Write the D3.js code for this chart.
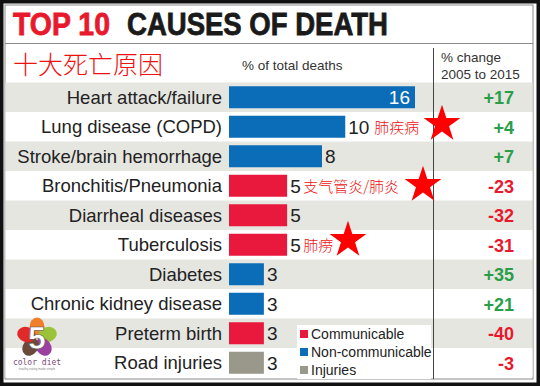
<!DOCTYPE html>
<html>
<head>
<meta charset="utf-8">
<script src="https://cdn.jsdelivr.net/npm/d3@7"></script>
<style>
  body { margin: 0; background: #fff; }
  svg { display: block; }
</style>
</head>
<body>
<svg id="chart"></svg>
<script>
// chart data
const causes = ["Heart attack/failure", "Lung disease (COPD)", "Stroke/brain hemorrhage",
  "Bronchitis/Pneumonia", "Diarrheal diseases", "Tuberculosis", "Diabetes",
  "Chronic kidney disease", "Preterm birth", "Road injuries"];
const shares = [16, 10, 8, 5, 5, 5, 3, 3, 3, 3];
const kinds = ["non", "non", "non", "com", "com", "com", "non", "non", "com", "inj"];
const changes = [17, 4, 7, -23, -32, -31, 35, 21, -40, -3];
const cnNotes = ["", "肺疾病", "", "支气管炎/肺炎", "", "肺痨", "", "", "", ""];
const legendKeys = ["com", "non", "inj"];
const legendNames = ["Communicable", "Non-communicable", "Injuries"];

const W = 540, H = 386;
const font = "'Liberation Sans', Arial, sans-serif";
const colors = { com: "#e8193c", non: "#0b6cb8", inj: "#9a978b" };

const svg = d3.select("#chart").attr("width", W).attr("height", H);

// frame
svg.append("rect").attr("x", 1.75).attr("y", 1.75).attr("width", W - 3.5).attr("height", H - 3.5)
  .attr("fill", "#fff").attr("stroke", "#111").attr("stroke-width", 3.5);
svg.append("rect").attr("x", 5).attr("y", 5).attr("width", 528).attr("height", 374)
  .attr("fill", "none").attr("stroke", "#8a8a8a").attr("stroke-width", 1);

// title, two pieces so they don't collide
const titleFont = "'Liberation Sans Narrow', 'Liberation Sans', sans-serif";
svg.append("text").attr("x", 13).attr("y", 35)
  .attr("font-family", titleFont).attr("font-weight", "bold").attr("font-size", 32)
  .attr("stroke", "#e8192c").attr("stroke-width", 0.8)
  .attr("textLength", 97).attr("lengthAdjust", "spacingAndGlyphs")
  .attr("fill", "#e8192c").text("TOP 10");
svg.append("text").attr("x", 127).attr("y", 35)
  .attr("font-family", titleFont).attr("font-weight", "bold").attr("font-size", 32)
  .attr("stroke", "#1a1a1a").attr("stroke-width", 0.8)
  .attr("textLength", 261).attr("lengthAdjust", "spacingAndGlyphs")
  .attr("fill", "#1a1a1a").text("CAUSES OF DEATH");

svg.append("line").attr("x1", 5).attr("x2", 533).attr("y1", 43.5).attr("y2", 43.5)
  .attr("stroke", "#8a8a8a");

svg.append("text").attr("x", 13).attr("y", 74)
  .attr("font-family", "'Noto Sans CJK SC', sans-serif").attr("font-weight", 300)
  .attr("font-size", 25).attr("fill", "#ee1111").text("十大死亡原因");

// headers
svg.append("text").attr("x", 242).attr("y", 70).attr("font-family", font)
  .attr("font-size", 13.5).attr("fill", "#333").text("% of total deaths");
const hdr = svg.append("text").attr("font-family", font).attr("font-size", 13.5).attr("fill", "#333");
hdr.append("tspan").attr("x", 441).attr("y", 62).text("% change");
hdr.append("tspan").attr("x", 441).attr("y", 79).text("2005 to 2015");

// scales
const y = d3.scaleBand().domain(causes).range([82.5, 377.5]).paddingInner(0).paddingOuter(0);
const x = d3.scaleLinear().domain([0, 16]).range([229, 415]);
const barH = 22;

const rows = svg.append("g").selectAll("g").data(causes).join("g")
  .attr("transform", d => `translate(0,${y(d)})`);

rows.append("rect").attr("x", 5.5).attr("width", 527).attr("height", y.bandwidth())
  .attr("fill", (d, i) => i % 2 === 0 ? "#e6e6e1" : "#fff");

rows.append("text").attr("x", 222).attr("y", y.bandwidth() / 2 + 6.5)
  .attr("text-anchor", "end").attr("font-family", font).attr("font-size", 18.5)
  .attr("fill", "#222").text(d => d);

rows.append("rect").attr("x", x(0)).attr("y", (y.bandwidth() - barH) / 2)
  .attr("width", (d, i) => x(shares[i]) - x(0)).attr("height", barH)
  .attr("fill", (d, i) => colors[kinds[i]]);

rows.append("text")
  .attr("x", (d, i) => i === 0 ? x(shares[i]) - 5 : x(shares[i]) + 3)
  .attr("y", y.bandwidth() / 2 + 7)
  .attr("text-anchor", (d, i) => i === 0 ? "end" : "start")
  .attr("font-family", font).attr("font-size", 19)
  .attr("fill", (d, i) => i === 0 ? "#fff" : "#222")
  .text((d, i) => shares[i]);

rows.append("text")
  .attr("x", (d, i) => x(shares[i]) + (shares[i] >= 10 ? 29 : 16))
  .attr("y", y.bandwidth() / 2 + 6)
  .attr("font-family", "'Noto Sans CJK SC', sans-serif").attr("font-weight", 300)
  .attr("font-size", 15).attr("fill", "#ee1111")
  .text((d, i) => cnNotes[i]);

rows.append("text").attr("x", 514).attr("y", y.bandwidth() / 2 + 7)
  .attr("text-anchor", "end").attr("font-family", font).attr("font-weight", "bold")
  .attr("font-size", 18)
  .attr("fill", (d, i) => changes[i] > 0 ? "#2a9e48" : "#e8192c")
  .text((d, i) => (changes[i] > 0 ? "+" : "") + changes[i]);

// divider
svg.append("line").attr("x1", 433.5).attr("x2", 433.5).attr("y1", 48).attr("y2", 379)
  .attr("stroke", "#444").attr("stroke-width", 1);

// legend
const lg = svg.append("g").attr("transform", "translate(297,325)");
lg.append("rect").attr("width", 134).attr("height", 54).attr("fill", "#fff");
const li = lg.selectAll("g").data(legendKeys).join("g")
  .attr("transform", (d, i) => `translate(3,${9 + i * 18})`);
li.append("rect").attr("width", 8).attr("height", 8).attr("y", -4).attr("fill", d => colors[d]);
li.append("text").attr("x", 11).attr("y", 5).attr("font-family", font).attr("font-size", 14)
  .attr("fill", "#222").text((d, i) => legendNames[i]);

// stars
const star = d3.symbol().type(d3.symbolStar).size(420);
const starAt = [[442, 124], [423, 185], [348, 240]];
svg.append("g").selectAll("path").data(starAt).join("path")
  .attr("d", star).attr("fill", "#ff0000")
  .attr("transform", d => `translate(${d[0]},${d[1]})`);

// logo
const logo = svg.append("g").attr("transform", "translate(37,338)");
const petals = [["#f07e2a", -90], ["#9bc33a", -18], ["#9b3fa0", 54], ["#6b4a3a", 126], ["#e02a2a", 198]];
logo.selectAll("ellipse").data(petals).join("ellipse")
  .attr("rx", 9.5).attr("ry", 7.5)
  .attr("transform", d => `rotate(${d[1]}) translate(11,0)`)
  .attr("fill", d => d[0]);
logo.append("text").attr("x", 0).attr("y", 11).attr("text-anchor", "middle")
  .attr("font-family", font).attr("font-weight", "bold").attr("font-size", 32)
  .attr("fill", "#fff").attr("stroke", "#555").attr("stroke-width", 0.6).text("5");
logo.append("text").attr("x", 0).attr("y", 27).attr("text-anchor", "middle")
  .attr("font-family", "'DejaVu Sans Mono', monospace").attr("font-size", 8)
  .attr("fill", "#7a4a7a").text("color diet");
logo.append("text").attr("x", 0).attr("y", 32).attr("text-anchor", "middle")
  .attr("font-family", font).attr("font-size", 3).attr("fill", "#888")
  .text("healthy eating made simple");
</script>
</body>
</html>
